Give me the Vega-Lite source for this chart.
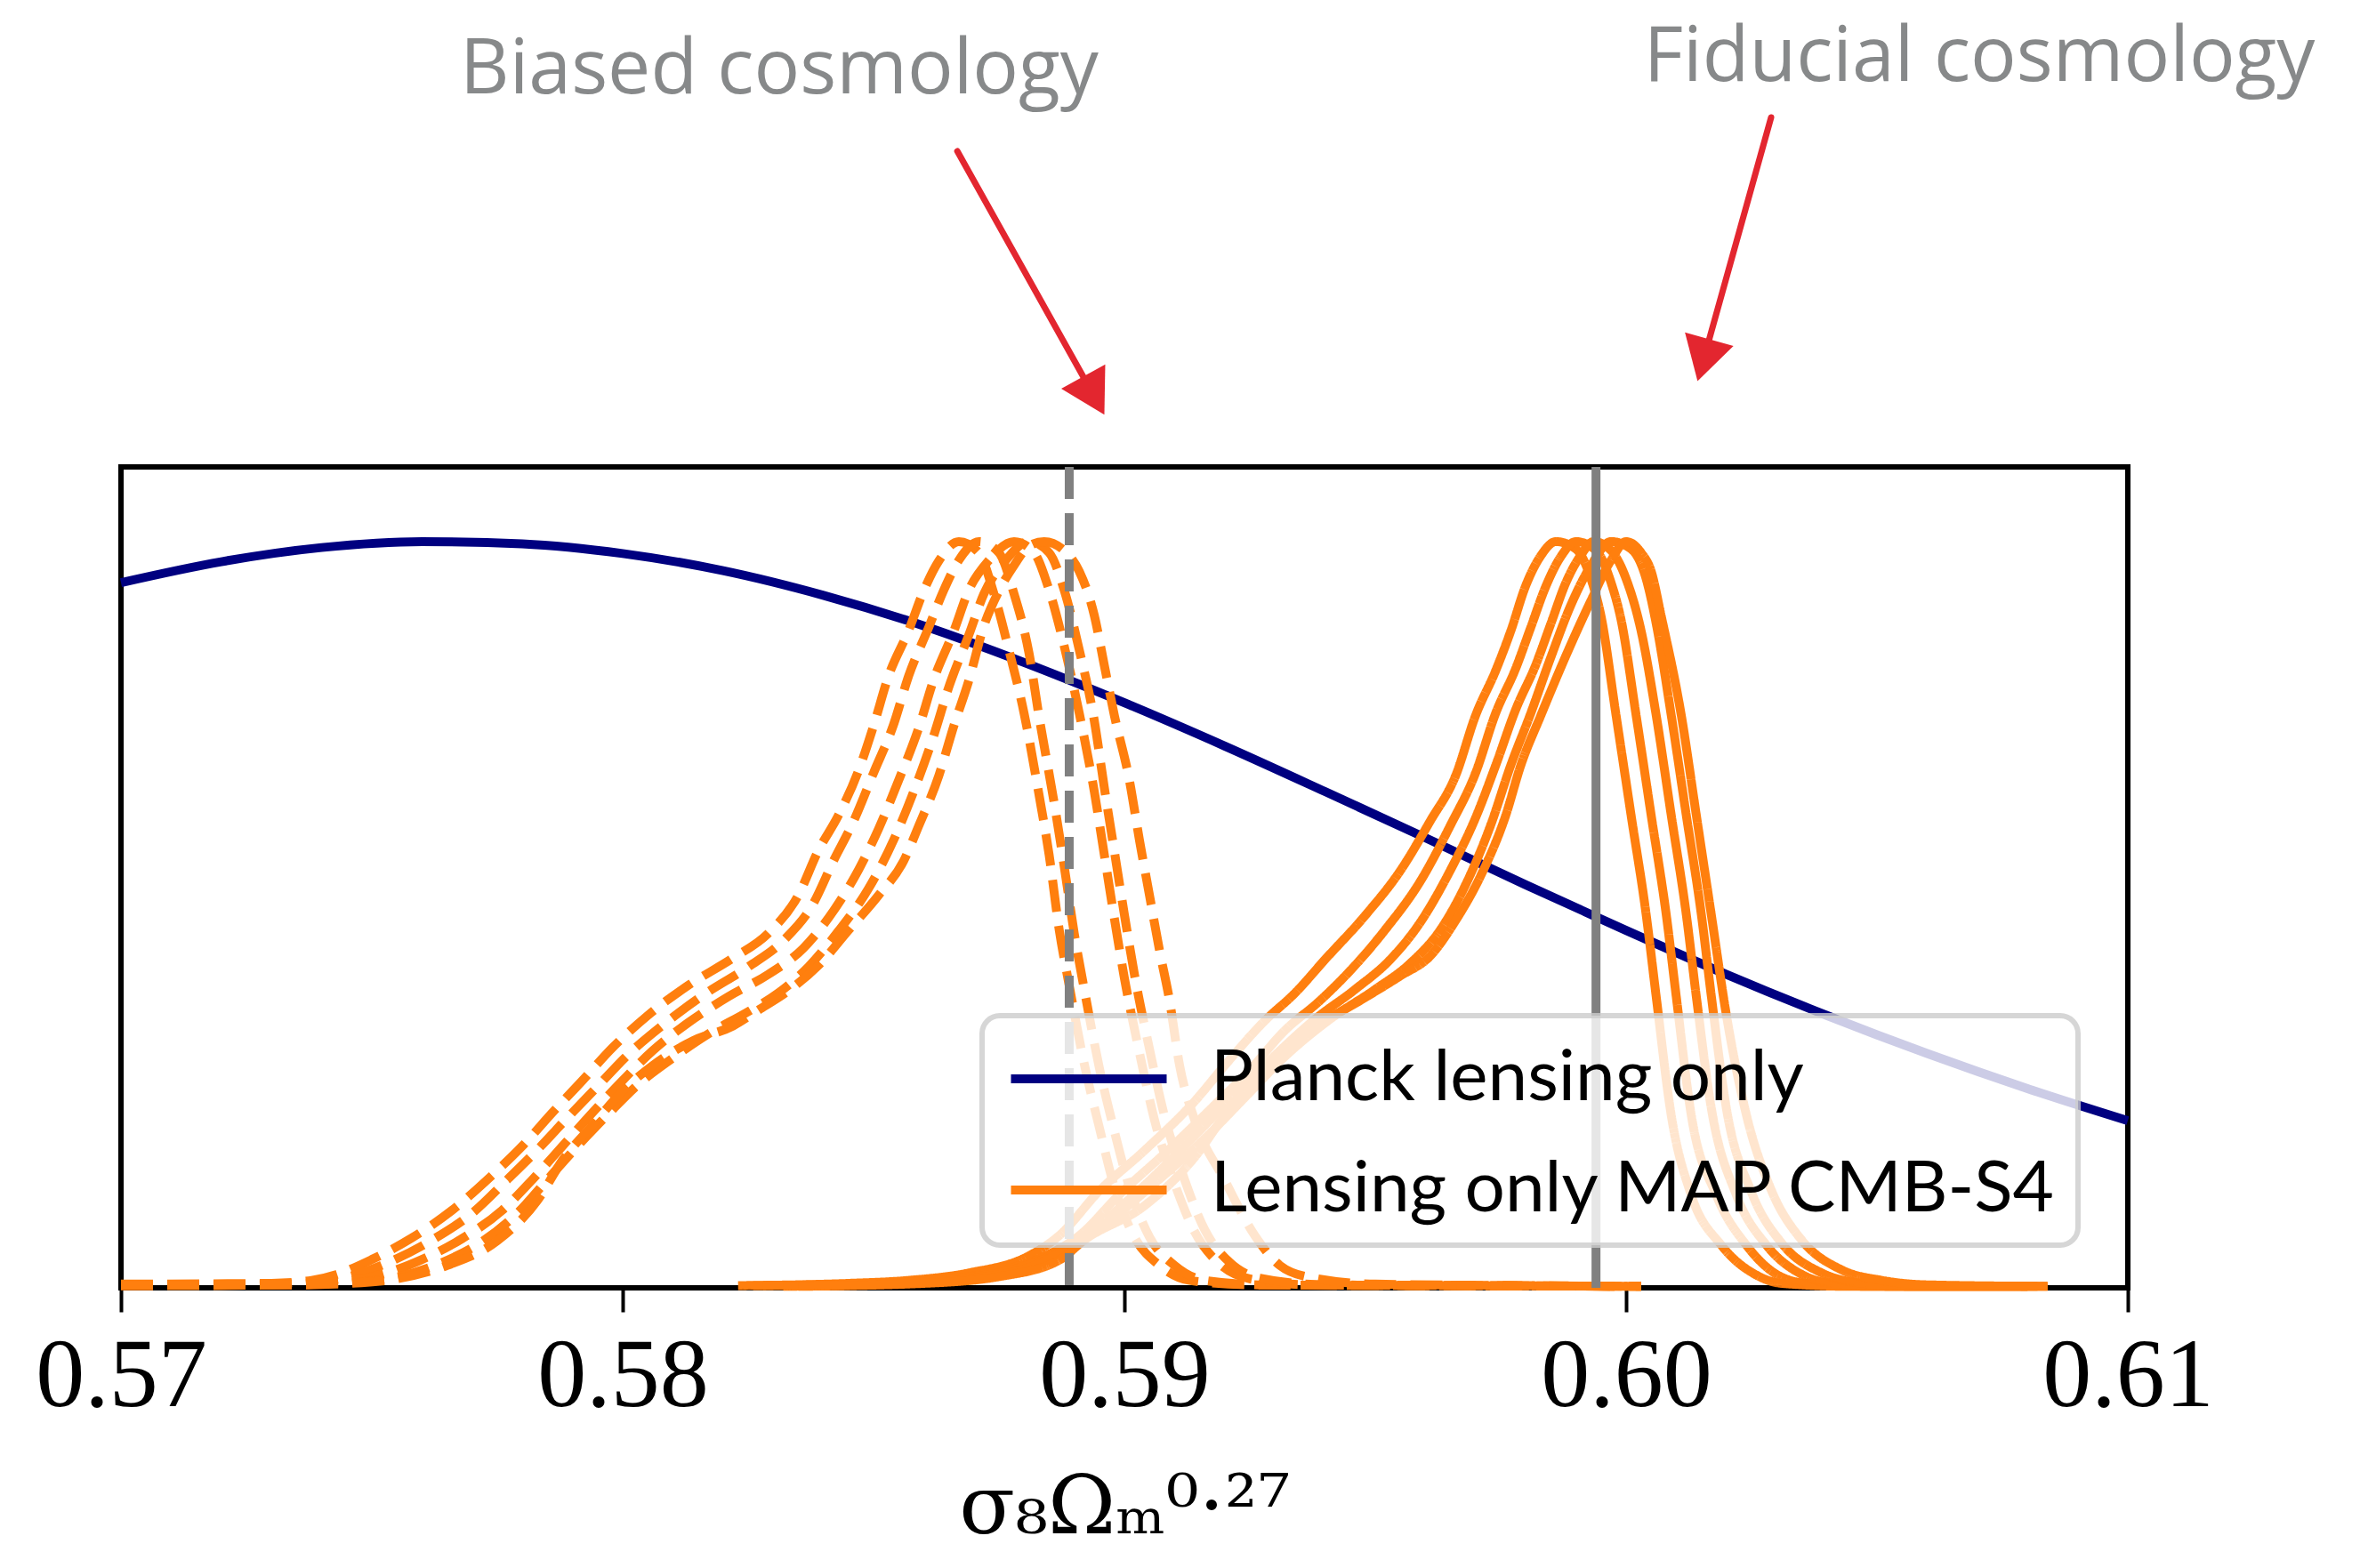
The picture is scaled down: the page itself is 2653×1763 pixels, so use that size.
{
  "$schema": "https://vega.github.io/schema/vega-lite/v6.json",
  "autosize": {"type": "none"},
  "padding": {"left": 136, "top": 525, "right": 261, "bottom": 315},
  "width": 2256,
  "height": 923,
  "background": "white",
  "datasets": {
    "planck": [
      {"x": 0.570, "p": 0.945}, {"x": 0.572, "p": 0.973}, {"x": 0.574, "p": 0.992}, {"x": 0.576, "p": 1.000},
      {"x": 0.578, "p": 0.997}, {"x": 0.580, "p": 0.984}, {"x": 0.582, "p": 0.961}, {"x": 0.584, "p": 0.928},
      {"x": 0.586, "p": 0.887}, {"x": 0.588, "p": 0.838}, {"x": 0.590, "p": 0.784}, {"x": 0.592, "p": 0.726},
      {"x": 0.594, "p": 0.665}, {"x": 0.596, "p": 0.603}, {"x": 0.598, "p": 0.540}, {"x": 0.600, "p": 0.479},
      {"x": 0.602, "p": 0.420}, {"x": 0.604, "p": 0.365}, {"x": 0.606, "p": 0.314}, {"x": 0.608, "p": 0.267},
      {"x": 0.610, "p": 0.224}
    ],
    "chains": [
      {"r": "b1", "c": "biased", "x": 0.5700, "p": 0.005}, {"r": "b1", "c": "biased", "x": 0.5730, "p": 0.006},
      {"r": "b1", "c": "biased", "x": 0.5738, "p": 0.010}, {"r": "b1", "c": "biased", "x": 0.5743, "p": 0.018},
      {"r": "b1", "c": "biased", "x": 0.5750, "p": 0.038}, {"r": "b1", "c": "biased", "x": 0.5758, "p": 0.067},
      {"r": "b1", "c": "biased", "x": 0.5766, "p": 0.104}, {"r": "b1", "c": "biased", "x": 0.5774, "p": 0.151},
      {"r": "b1", "c": "biased", "x": 0.5780, "p": 0.190}, {"r": "b1", "c": "biased", "x": 0.5786, "p": 0.235},
      {"r": "b1", "c": "biased", "x": 0.5792, "p": 0.278}, {"r": "b1", "c": "biased", "x": 0.5798, "p": 0.322},
      {"r": "b1", "c": "biased", "x": 0.5805, "p": 0.365}, {"r": "b1", "c": "biased", "x": 0.5813, "p": 0.405},
      {"r": "b1", "c": "biased", "x": 0.5822, "p": 0.442}, {"r": "b1", "c": "biased", "x": 0.5829, "p": 0.475},
      {"r": "b1", "c": "biased", "x": 0.5835, "p": 0.526}, {"r": "b1", "c": "biased", "x": 0.5839, "p": 0.586},
      {"r": "b1", "c": "biased", "x": 0.5843, "p": 0.633}, {"r": "b1", "c": "biased", "x": 0.5847, "p": 0.693},
      {"r": "b1", "c": "biased", "x": 0.5850, "p": 0.753}, {"r": "b1", "c": "biased", "x": 0.5853, "p": 0.820},
      {"r": "b1", "c": "biased", "x": 0.5857, "p": 0.881}, {"r": "b1", "c": "biased", "x": 0.5860, "p": 0.934},
      {"r": "b1", "c": "biased", "x": 0.5863, "p": 0.974}, {"r": "b1", "c": "biased", "x": 0.5867, "p": 1.000},
      {"r": "b1", "c": "biased", "x": 0.5871, "p": 0.985}, {"r": "b1", "c": "biased", "x": 0.5874, "p": 0.930},
      {"r": "b1", "c": "biased", "x": 0.5877, "p": 0.854}, {"r": "b1", "c": "biased", "x": 0.5880, "p": 0.770},
      {"r": "b1", "c": "biased", "x": 0.5883, "p": 0.660}, {"r": "b1", "c": "biased", "x": 0.5885, "p": 0.580},
      {"r": "b1", "c": "biased", "x": 0.5887, "p": 0.480}, {"r": "b1", "c": "biased", "x": 0.5889, "p": 0.405},
      {"r": "b1", "c": "biased", "x": 0.5892, "p": 0.300}, {"r": "b1", "c": "biased", "x": 0.5895, "p": 0.215},
      {"r": "b1", "c": "biased", "x": 0.5898, "p": 0.135}, {"r": "b1", "c": "biased", "x": 0.5902, "p": 0.068},
      {"r": "b1", "c": "biased", "x": 0.5907, "p": 0.030}, {"r": "b1", "c": "biased", "x": 0.5913, "p": 0.010},
      {"r": "b1", "c": "biased", "x": 0.5925, "p": 0.004}, {"r": "b1", "c": "biased", "x": 0.5960, "p": 0.003},
      {"r": "b1", "c": "biased", "x": 0.6003, "p": 0.002},

      {"r": "b2", "c": "biased", "x": 0.5700, "p": 0.004}, {"r": "b2", "c": "biased", "x": 0.5732, "p": 0.005},
      {"r": "b2", "c": "biased", "x": 0.5741, "p": 0.009}, {"r": "b2", "c": "biased", "x": 0.5747, "p": 0.018},
      {"r": "b2", "c": "biased", "x": 0.5754, "p": 0.036}, {"r": "b2", "c": "biased", "x": 0.5762, "p": 0.064},
      {"r": "b2", "c": "biased", "x": 0.5770, "p": 0.100}, {"r": "b2", "c": "biased", "x": 0.5777, "p": 0.145},
      {"r": "b2", "c": "biased", "x": 0.5783, "p": 0.185}, {"r": "b2", "c": "biased", "x": 0.5789, "p": 0.228},
      {"r": "b2", "c": "biased", "x": 0.5795, "p": 0.270}, {"r": "b2", "c": "biased", "x": 0.5801, "p": 0.312},
      {"r": "b2", "c": "biased", "x": 0.5808, "p": 0.352}, {"r": "b2", "c": "biased", "x": 0.5816, "p": 0.392},
      {"r": "b2", "c": "biased", "x": 0.5825, "p": 0.430}, {"r": "b2", "c": "biased", "x": 0.5832, "p": 0.465},
      {"r": "b2", "c": "biased", "x": 0.5838, "p": 0.515}, {"r": "b2", "c": "biased", "x": 0.5842, "p": 0.572},
      {"r": "b2", "c": "biased", "x": 0.5846, "p": 0.625}, {"r": "b2", "c": "biased", "x": 0.5850, "p": 0.690},
      {"r": "b2", "c": "biased", "x": 0.5854, "p": 0.755}, {"r": "b2", "c": "biased", "x": 0.5857, "p": 0.820},
      {"r": "b2", "c": "biased", "x": 0.5861, "p": 0.885}, {"r": "b2", "c": "biased", "x": 0.5864, "p": 0.935},
      {"r": "b2", "c": "biased", "x": 0.5867, "p": 0.975}, {"r": "b2", "c": "biased", "x": 0.5871, "p": 1.000},
      {"r": "b2", "c": "biased", "x": 0.5875, "p": 0.985}, {"r": "b2", "c": "biased", "x": 0.5878, "p": 0.930},
      {"r": "b2", "c": "biased", "x": 0.5881, "p": 0.850}, {"r": "b2", "c": "biased", "x": 0.5883, "p": 0.765},
      {"r": "b2", "c": "biased", "x": 0.5886, "p": 0.650}, {"r": "b2", "c": "biased", "x": 0.5888, "p": 0.565},
      {"r": "b2", "c": "biased", "x": 0.5890, "p": 0.475}, {"r": "b2", "c": "biased", "x": 0.5892, "p": 0.400},
      {"r": "b2", "c": "biased", "x": 0.5895, "p": 0.295}, {"r": "b2", "c": "biased", "x": 0.5898, "p": 0.210},
      {"r": "b2", "c": "biased", "x": 0.5901, "p": 0.135}, {"r": "b2", "c": "biased", "x": 0.5905, "p": 0.068},
      {"r": "b2", "c": "biased", "x": 0.5910, "p": 0.030}, {"r": "b2", "c": "biased", "x": 0.5916, "p": 0.010},
      {"r": "b2", "c": "biased", "x": 0.5928, "p": 0.004}, {"r": "b2", "c": "biased", "x": 0.5965, "p": 0.003},
      {"r": "b2", "c": "biased", "x": 0.6003, "p": 0.002},

      {"r": "b3", "c": "biased", "x": 0.5700, "p": 0.004}, {"r": "b3", "c": "biased", "x": 0.5735, "p": 0.005},
      {"r": "b3", "c": "biased", "x": 0.5745, "p": 0.009}, {"r": "b3", "c": "biased", "x": 0.5752, "p": 0.018},
      {"r": "b3", "c": "biased", "x": 0.5760, "p": 0.038}, {"r": "b3", "c": "biased", "x": 0.5768, "p": 0.066},
      {"r": "b3", "c": "biased", "x": 0.5776, "p": 0.104}, {"r": "b3", "c": "biased", "x": 0.5782, "p": 0.145},
      {"r": "b3", "c": "biased", "x": 0.5788, "p": 0.190}, {"r": "b3", "c": "biased", "x": 0.5794, "p": 0.235},
      {"r": "b3", "c": "biased", "x": 0.5800, "p": 0.278}, {"r": "b3", "c": "biased", "x": 0.5806, "p": 0.318},
      {"r": "b3", "c": "biased", "x": 0.5813, "p": 0.355}, {"r": "b3", "c": "biased", "x": 0.5821, "p": 0.390},
      {"r": "b3", "c": "biased", "x": 0.5829, "p": 0.420}, {"r": "b3", "c": "biased", "x": 0.5836, "p": 0.455},
      {"r": "b3", "c": "biased", "x": 0.5842, "p": 0.505}, {"r": "b3", "c": "biased", "x": 0.5847, "p": 0.560},
      {"r": "b3", "c": "biased", "x": 0.5851, "p": 0.615}, {"r": "b3", "c": "biased", "x": 0.5855, "p": 0.680},
      {"r": "b3", "c": "biased", "x": 0.5859, "p": 0.750}, {"r": "b3", "c": "biased", "x": 0.5862, "p": 0.815},
      {"r": "b3", "c": "biased", "x": 0.5866, "p": 0.880}, {"r": "b3", "c": "biased", "x": 0.5869, "p": 0.935},
      {"r": "b3", "c": "biased", "x": 0.5873, "p": 0.975}, {"r": "b3", "c": "biased", "x": 0.5878, "p": 1.000},
      {"r": "b3", "c": "biased", "x": 0.5882, "p": 0.985}, {"r": "b3", "c": "biased", "x": 0.5885, "p": 0.935},
      {"r": "b3", "c": "biased", "x": 0.5888, "p": 0.860}, {"r": "b3", "c": "biased", "x": 0.5891, "p": 0.770},
      {"r": "b3", "c": "biased", "x": 0.5894, "p": 0.665}, {"r": "b3", "c": "biased", "x": 0.5896, "p": 0.580},
      {"r": "b3", "c": "biased", "x": 0.5898, "p": 0.495}, {"r": "b3", "c": "biased", "x": 0.5900, "p": 0.415},
      {"r": "b3", "c": "biased", "x": 0.5903, "p": 0.315}, {"r": "b3", "c": "biased", "x": 0.5906, "p": 0.225},
      {"r": "b3", "c": "biased", "x": 0.5910, "p": 0.140}, {"r": "b3", "c": "biased", "x": 0.5914, "p": 0.075},
      {"r": "b3", "c": "biased", "x": 0.5919, "p": 0.032}, {"r": "b3", "c": "biased", "x": 0.5925, "p": 0.012},
      {"r": "b3", "c": "biased", "x": 0.5937, "p": 0.004}, {"r": "b3", "c": "biased", "x": 0.5970, "p": 0.003},
      {"r": "b3", "c": "biased", "x": 0.6003, "p": 0.002},

      {"r": "b4", "c": "biased", "x": 0.5700, "p": 0.003}, {"r": "b4", "c": "biased", "x": 0.5737, "p": 0.004},
      {"r": "b4", "c": "biased", "x": 0.5748, "p": 0.008}, {"r": "b4", "c": "biased", "x": 0.5756, "p": 0.016},
      {"r": "b4", "c": "biased", "x": 0.5764, "p": 0.034}, {"r": "b4", "c": "biased", "x": 0.5772, "p": 0.062},
      {"r": "b4", "c": "biased", "x": 0.5779, "p": 0.100}, {"r": "b4", "c": "biased", "x": 0.5785, "p": 0.145},
      {"r": "b4", "c": "biased", "x": 0.5791, "p": 0.190}, {"r": "b4", "c": "biased", "x": 0.5797, "p": 0.232},
      {"r": "b4", "c": "biased", "x": 0.5803, "p": 0.272}, {"r": "b4", "c": "biased", "x": 0.5810, "p": 0.308},
      {"r": "b4", "c": "biased", "x": 0.5817, "p": 0.340}, {"r": "b4", "c": "biased", "x": 0.5825, "p": 0.370},
      {"r": "b4", "c": "biased", "x": 0.5831, "p": 0.395}, {"r": "b4", "c": "biased", "x": 0.5837, "p": 0.430},
      {"r": "b4", "c": "biased", "x": 0.5843, "p": 0.478}, {"r": "b4", "c": "biased", "x": 0.5849, "p": 0.535},
      {"r": "b4", "c": "biased", "x": 0.5854, "p": 0.600}, {"r": "b4", "c": "biased", "x": 0.5858, "p": 0.665},
      {"r": "b4", "c": "biased", "x": 0.5862, "p": 0.740}, {"r": "b4", "c": "biased", "x": 0.5865, "p": 0.805},
      {"r": "b4", "c": "biased", "x": 0.5869, "p": 0.875}, {"r": "b4", "c": "biased", "x": 0.5872, "p": 0.930},
      {"r": "b4", "c": "biased", "x": 0.5876, "p": 0.972}, {"r": "b4", "c": "biased", "x": 0.5881, "p": 1.000},
      {"r": "b4", "c": "biased", "x": 0.5885, "p": 0.985}, {"r": "b4", "c": "biased", "x": 0.5888, "p": 0.935},
      {"r": "b4", "c": "biased", "x": 0.5891, "p": 0.855}, {"r": "b4", "c": "biased", "x": 0.5894, "p": 0.760},
      {"r": "b4", "c": "biased", "x": 0.5896, "p": 0.670}, {"r": "b4", "c": "biased", "x": 0.5898, "p": 0.585},
      {"r": "b4", "c": "biased", "x": 0.5900, "p": 0.500}, {"r": "b4", "c": "biased", "x": 0.5902, "p": 0.420},
      {"r": "b4", "c": "biased", "x": 0.5905, "p": 0.320}, {"r": "b4", "c": "biased", "x": 0.5908, "p": 0.230},
      {"r": "b4", "c": "biased", "x": 0.5912, "p": 0.145}, {"r": "b4", "c": "biased", "x": 0.5916, "p": 0.078},
      {"r": "b4", "c": "biased", "x": 0.5921, "p": 0.034}, {"r": "b4", "c": "biased", "x": 0.5927, "p": 0.013},
      {"r": "b4", "c": "biased", "x": 0.5940, "p": 0.004}, {"r": "b4", "c": "biased", "x": 0.5975, "p": 0.003},
      {"r": "b4", "c": "biased", "x": 0.6003, "p": 0.002},

      {"r": "b5", "c": "biased", "x": 0.5700, "p": 0.003}, {"r": "b5", "c": "biased", "x": 0.5730, "p": 0.004},
      {"r": "b5", "c": "biased", "x": 0.5745, "p": 0.006}, {"r": "b5", "c": "biased", "x": 0.5755, "p": 0.012},
      {"r": "b5", "c": "biased", "x": 0.5765, "p": 0.030}, {"r": "b5", "c": "biased", "x": 0.5775, "p": 0.063},
      {"r": "b5", "c": "biased", "x": 0.5783, "p": 0.117}, {"r": "b5", "c": "biased", "x": 0.5788, "p": 0.171},
      {"r": "b5", "c": "biased", "x": 0.5794, "p": 0.218}, {"r": "b5", "c": "biased", "x": 0.5800, "p": 0.264},
      {"r": "b5", "c": "biased", "x": 0.5806, "p": 0.298}, {"r": "b5", "c": "biased", "x": 0.5814, "p": 0.331},
      {"r": "b5", "c": "biased", "x": 0.5822, "p": 0.351}, {"r": "b5", "c": "biased", "x": 0.5827, "p": 0.372},
      {"r": "b5", "c": "biased", "x": 0.5833, "p": 0.398}, {"r": "b5", "c": "biased", "x": 0.5839, "p": 0.432},
      {"r": "b5", "c": "biased", "x": 0.5845, "p": 0.479}, {"r": "b5", "c": "biased", "x": 0.5851, "p": 0.526},
      {"r": "b5", "c": "biased", "x": 0.5856, "p": 0.572}, {"r": "b5", "c": "biased", "x": 0.5859, "p": 0.619},
      {"r": "b5", "c": "biased", "x": 0.5863, "p": 0.686}, {"r": "b5", "c": "biased", "x": 0.5866, "p": 0.753},
      {"r": "b5", "c": "biased", "x": 0.5869, "p": 0.814}, {"r": "b5", "c": "biased", "x": 0.5872, "p": 0.887},
      {"r": "b5", "c": "biased", "x": 0.5875, "p": 0.934}, {"r": "b5", "c": "biased", "x": 0.5878, "p": 0.968},
      {"r": "b5", "c": "biased", "x": 0.5881, "p": 0.994}, {"r": "b5", "c": "biased", "x": 0.5884, "p": 1.000},
      {"r": "b5", "c": "biased", "x": 0.5888, "p": 0.988}, {"r": "b5", "c": "biased", "x": 0.5891, "p": 0.960},
      {"r": "b5", "c": "biased", "x": 0.5894, "p": 0.901}, {"r": "b5", "c": "biased", "x": 0.5896, "p": 0.834},
      {"r": "b5", "c": "biased", "x": 0.5898, "p": 0.767}, {"r": "b5", "c": "biased", "x": 0.5901, "p": 0.680},
      {"r": "b5", "c": "biased", "x": 0.5903, "p": 0.600}, {"r": "b5", "c": "biased", "x": 0.5905, "p": 0.526},
      {"r": "b5", "c": "biased", "x": 0.5907, "p": 0.452}, {"r": "b5", "c": "biased", "x": 0.5909, "p": 0.385},
      {"r": "b5", "c": "biased", "x": 0.5911, "p": 0.298}, {"r": "b5", "c": "biased", "x": 0.5914, "p": 0.225},
      {"r": "b5", "c": "biased", "x": 0.5920, "p": 0.144}, {"r": "b5", "c": "biased", "x": 0.5926, "p": 0.070},
      {"r": "b5", "c": "biased", "x": 0.5931, "p": 0.030}, {"r": "b5", "c": "biased", "x": 0.5937, "p": 0.014},
      {"r": "b5", "c": "biased", "x": 0.5950, "p": 0.005}, {"r": "b5", "c": "biased", "x": 0.5980, "p": 0.003},
      {"r": "b5", "c": "biased", "x": 0.6003, "p": 0.002},

      {"r": "f1", "c": "fiducial", "x": 0.5823, "p": 0.003}, {"r": "f1", "c": "fiducial", "x": 0.5845, "p": 0.006},
      {"r": "f1", "c": "fiducial", "x": 0.5857, "p": 0.010}, {"r": "f1", "c": "fiducial", "x": 0.5869, "p": 0.020},
      {"r": "f1", "c": "fiducial", "x": 0.5881, "p": 0.043}, {"r": "f1", "c": "fiducial", "x": 0.5887, "p": 0.070},
      {"r": "f1", "c": "fiducial", "x": 0.5895, "p": 0.130}, {"r": "f1", "c": "fiducial", "x": 0.5904, "p": 0.184},
      {"r": "f1", "c": "fiducial", "x": 0.5914, "p": 0.250}, {"r": "f1", "c": "fiducial", "x": 0.5920, "p": 0.298},
      {"r": "f1", "c": "fiducial", "x": 0.5928, "p": 0.358}, {"r": "f1", "c": "fiducial", "x": 0.5934, "p": 0.395},
      {"r": "f1", "c": "fiducial", "x": 0.5940, "p": 0.440}, {"r": "f1", "c": "fiducial", "x": 0.5948, "p": 0.499},
      {"r": "f1", "c": "fiducial", "x": 0.5955, "p": 0.559}, {"r": "f1", "c": "fiducial", "x": 0.5961, "p": 0.626},
      {"r": "f1", "c": "fiducial", "x": 0.5966, "p": 0.686}, {"r": "f1", "c": "fiducial", "x": 0.5970, "p": 0.767},
      {"r": "f1", "c": "fiducial", "x": 0.5974, "p": 0.827}, {"r": "f1", "c": "fiducial", "x": 0.5977, "p": 0.880},
      {"r": "f1", "c": "fiducial", "x": 0.5980, "p": 0.941}, {"r": "f1", "c": "fiducial", "x": 0.5983, "p": 0.981},
      {"r": "f1", "c": "fiducial", "x": 0.5986, "p": 1.000}, {"r": "f1", "c": "fiducial", "x": 0.5990, "p": 0.990},
      {"r": "f1", "c": "fiducial", "x": 0.5993, "p": 0.950}, {"r": "f1", "c": "fiducial", "x": 0.5995, "p": 0.900},
      {"r": "f1", "c": "fiducial", "x": 0.5998, "p": 0.767}, {"r": "f1", "c": "fiducial", "x": 0.6001, "p": 0.633},
      {"r": "f1", "c": "fiducial", "x": 0.6004, "p": 0.500}, {"r": "f1", "c": "fiducial", "x": 0.6006, "p": 0.390},
      {"r": "f1", "c": "fiducial", "x": 0.6009, "p": 0.231}, {"r": "f1", "c": "fiducial", "x": 0.6013, "p": 0.124},
      {"r": "f1", "c": "fiducial", "x": 0.6019, "p": 0.057}, {"r": "f1", "c": "fiducial", "x": 0.6026, "p": 0.017},
      {"r": "f1", "c": "fiducial", "x": 0.6031, "p": 0.006}, {"r": "f1", "c": "fiducial", "x": 0.6045, "p": 0.002},
      {"r": "f1", "c": "fiducial", "x": 0.6080, "p": 0.002},

      {"r": "f2", "c": "fiducial", "x": 0.5826, "p": 0.003}, {"r": "f2", "c": "fiducial", "x": 0.5850, "p": 0.006},
      {"r": "f2", "c": "fiducial", "x": 0.5862, "p": 0.010}, {"r": "f2", "c": "fiducial", "x": 0.5873, "p": 0.020},
      {"r": "f2", "c": "fiducial", "x": 0.5884, "p": 0.042}, {"r": "f2", "c": "fiducial", "x": 0.5891, "p": 0.070},
      {"r": "f2", "c": "fiducial", "x": 0.5899, "p": 0.125}, {"r": "f2", "c": "fiducial", "x": 0.5908, "p": 0.180},
      {"r": "f2", "c": "fiducial", "x": 0.5918, "p": 0.245}, {"r": "f2", "c": "fiducial", "x": 0.5925, "p": 0.292},
      {"r": "f2", "c": "fiducial", "x": 0.5932, "p": 0.345}, {"r": "f2", "c": "fiducial", "x": 0.5939, "p": 0.385},
      {"r": "f2", "c": "fiducial", "x": 0.5945, "p": 0.425}, {"r": "f2", "c": "fiducial", "x": 0.5952, "p": 0.480},
      {"r": "f2", "c": "fiducial", "x": 0.5959, "p": 0.545}, {"r": "f2", "c": "fiducial", "x": 0.5965, "p": 0.620},
      {"r": "f2", "c": "fiducial", "x": 0.5970, "p": 0.690}, {"r": "f2", "c": "fiducial", "x": 0.5974, "p": 0.770},
      {"r": "f2", "c": "fiducial", "x": 0.5978, "p": 0.830}, {"r": "f2", "c": "fiducial", "x": 0.5981, "p": 0.885},
      {"r": "f2", "c": "fiducial", "x": 0.5984, "p": 0.940}, {"r": "f2", "c": "fiducial", "x": 0.5987, "p": 0.980},
      {"r": "f2", "c": "fiducial", "x": 0.5990, "p": 1.000}, {"r": "f2", "c": "fiducial", "x": 0.5994, "p": 0.988},
      {"r": "f2", "c": "fiducial", "x": 0.5997, "p": 0.945}, {"r": "f2", "c": "fiducial", "x": 0.5999, "p": 0.895},
      {"r": "f2", "c": "fiducial", "x": 0.6002, "p": 0.767}, {"r": "f2", "c": "fiducial", "x": 0.6005, "p": 0.633},
      {"r": "f2", "c": "fiducial", "x": 0.6008, "p": 0.500}, {"r": "f2", "c": "fiducial", "x": 0.6010, "p": 0.390},
      {"r": "f2", "c": "fiducial", "x": 0.6013, "p": 0.231}, {"r": "f2", "c": "fiducial", "x": 0.6018, "p": 0.124},
      {"r": "f2", "c": "fiducial", "x": 0.6024, "p": 0.057}, {"r": "f2", "c": "fiducial", "x": 0.6030, "p": 0.018},
      {"r": "f2", "c": "fiducial", "x": 0.6036, "p": 0.006}, {"r": "f2", "c": "fiducial", "x": 0.6050, "p": 0.002},
      {"r": "f2", "c": "fiducial", "x": 0.6080, "p": 0.002},

      {"r": "f3", "c": "fiducial", "x": 0.5828, "p": 0.003}, {"r": "f3", "c": "fiducial", "x": 0.5852, "p": 0.006},
      {"r": "f3", "c": "fiducial", "x": 0.5866, "p": 0.012}, {"r": "f3", "c": "fiducial", "x": 0.5878, "p": 0.025},
      {"r": "f3", "c": "fiducial", "x": 0.5886, "p": 0.045}, {"r": "f3", "c": "fiducial", "x": 0.5893, "p": 0.075},
      {"r": "f3", "c": "fiducial", "x": 0.5902, "p": 0.125}, {"r": "f3", "c": "fiducial", "x": 0.5912, "p": 0.190},
      {"r": "f3", "c": "fiducial", "x": 0.5920, "p": 0.245}, {"r": "f3", "c": "fiducial", "x": 0.5929, "p": 0.305},
      {"r": "f3", "c": "fiducial", "x": 0.5938, "p": 0.360}, {"r": "f3", "c": "fiducial", "x": 0.5946, "p": 0.400},
      {"r": "f3", "c": "fiducial", "x": 0.5953, "p": 0.440}, {"r": "f3", "c": "fiducial", "x": 0.5959, "p": 0.490},
      {"r": "f3", "c": "fiducial", "x": 0.5965, "p": 0.560}, {"r": "f3", "c": "fiducial", "x": 0.5970, "p": 0.630},
      {"r": "f3", "c": "fiducial", "x": 0.5974, "p": 0.700}, {"r": "f3", "c": "fiducial", "x": 0.5978, "p": 0.775},
      {"r": "f3", "c": "fiducial", "x": 0.5982, "p": 0.835}, {"r": "f3", "c": "fiducial", "x": 0.5985, "p": 0.890},
      {"r": "f3", "c": "fiducial", "x": 0.5988, "p": 0.945}, {"r": "f3", "c": "fiducial", "x": 0.5991, "p": 0.982},
      {"r": "f3", "c": "fiducial", "x": 0.59935, "p": 1.000}, {"r": "f3", "c": "fiducial", "x": 0.5997, "p": 0.988},
      {"r": "f3", "c": "fiducial", "x": 0.6000, "p": 0.950}, {"r": "f3", "c": "fiducial", "x": 0.6003, "p": 0.880},
      {"r": "f3", "c": "fiducial", "x": 0.6006, "p": 0.767}, {"r": "f3", "c": "fiducial", "x": 0.6009, "p": 0.633},
      {"r": "f3", "c": "fiducial", "x": 0.6012, "p": 0.500}, {"r": "f3", "c": "fiducial", "x": 0.6014, "p": 0.390},
      {"r": "f3", "c": "fiducial", "x": 0.6017, "p": 0.240}, {"r": "f3", "c": "fiducial", "x": 0.6022, "p": 0.124},
      {"r": "f3", "c": "fiducial", "x": 0.6028, "p": 0.057}, {"r": "f3", "c": "fiducial", "x": 0.6035, "p": 0.018},
      {"r": "f3", "c": "fiducial", "x": 0.6041, "p": 0.006}, {"r": "f3", "c": "fiducial", "x": 0.6055, "p": 0.002},
      {"r": "f3", "c": "fiducial", "x": 0.6082, "p": 0.002},

      {"r": "f4", "c": "fiducial", "x": 0.5832, "p": 0.002}, {"r": "f4", "c": "fiducial", "x": 0.5856, "p": 0.006},
      {"r": "f4", "c": "fiducial", "x": 0.5870, "p": 0.013}, {"r": "f4", "c": "fiducial", "x": 0.5882, "p": 0.030},
      {"r": "f4", "c": "fiducial", "x": 0.5889, "p": 0.055}, {"r": "f4", "c": "fiducial", "x": 0.5897, "p": 0.090},
      {"r": "f4", "c": "fiducial", "x": 0.5906, "p": 0.140}, {"r": "f4", "c": "fiducial", "x": 0.5916, "p": 0.200},
      {"r": "f4", "c": "fiducial", "x": 0.5924, "p": 0.255}, {"r": "f4", "c": "fiducial", "x": 0.5932, "p": 0.310},
      {"r": "f4", "c": "fiducial", "x": 0.5941, "p": 0.360}, {"r": "f4", "c": "fiducial", "x": 0.5950, "p": 0.400},
      {"r": "f4", "c": "fiducial", "x": 0.5957, "p": 0.435}, {"r": "f4", "c": "fiducial", "x": 0.5963, "p": 0.480},
      {"r": "f4", "c": "fiducial", "x": 0.5968, "p": 0.540}, {"r": "f4", "c": "fiducial", "x": 0.5973, "p": 0.620},
      {"r": "f4", "c": "fiducial", "x": 0.5977, "p": 0.700}, {"r": "f4", "c": "fiducial", "x": 0.5981, "p": 0.770},
      {"r": "f4", "c": "fiducial", "x": 0.5985, "p": 0.845}, {"r": "f4", "c": "fiducial", "x": 0.5989, "p": 0.915},
      {"r": "f4", "c": "fiducial", "x": 0.5993, "p": 0.968}, {"r": "f4", "c": "fiducial", "x": 0.5997, "p": 1.000},
      {"r": "f4", "c": "fiducial", "x": 0.6001, "p": 0.990}, {"r": "f4", "c": "fiducial", "x": 0.6004, "p": 0.950},
      {"r": "f4", "c": "fiducial", "x": 0.6006, "p": 0.890}, {"r": "f4", "c": "fiducial", "x": 0.6009, "p": 0.767},
      {"r": "f4", "c": "fiducial", "x": 0.6012, "p": 0.633}, {"r": "f4", "c": "fiducial", "x": 0.6015, "p": 0.500},
      {"r": "f4", "c": "fiducial", "x": 0.6017, "p": 0.390}, {"r": "f4", "c": "fiducial", "x": 0.6020, "p": 0.240},
      {"r": "f4", "c": "fiducial", "x": 0.6025, "p": 0.128}, {"r": "f4", "c": "fiducial", "x": 0.6031, "p": 0.060},
      {"r": "f4", "c": "fiducial", "x": 0.6039, "p": 0.020}, {"r": "f4", "c": "fiducial", "x": 0.6046, "p": 0.007},
      {"r": "f4", "c": "fiducial", "x": 0.6058, "p": 0.002}, {"r": "f4", "c": "fiducial", "x": 0.6084, "p": 0.002},

      {"r": "f5", "c": "fiducial", "x": 0.5835, "p": 0.002}, {"r": "f5", "c": "fiducial", "x": 0.5860, "p": 0.006},
      {"r": "f5", "c": "fiducial", "x": 0.5875, "p": 0.015}, {"r": "f5", "c": "fiducial", "x": 0.5887, "p": 0.037},
      {"r": "f5", "c": "fiducial", "x": 0.5892, "p": 0.064}, {"r": "f5", "c": "fiducial", "x": 0.5904, "p": 0.110},
      {"r": "f5", "c": "fiducial", "x": 0.5914, "p": 0.175}, {"r": "f5", "c": "fiducial", "x": 0.5920, "p": 0.231},
      {"r": "f5", "c": "fiducial", "x": 0.5928, "p": 0.291}, {"r": "f5", "c": "fiducial", "x": 0.5937, "p": 0.345},
      {"r": "f5", "c": "fiducial", "x": 0.5947, "p": 0.385}, {"r": "f5", "c": "fiducial", "x": 0.5955, "p": 0.418},
      {"r": "f5", "c": "fiducial", "x": 0.5961, "p": 0.445}, {"r": "f5", "c": "fiducial", "x": 0.5966, "p": 0.492},
      {"r": "f5", "c": "fiducial", "x": 0.5971, "p": 0.552}, {"r": "f5", "c": "fiducial", "x": 0.5976, "p": 0.633},
      {"r": "f5", "c": "fiducial", "x": 0.5979, "p": 0.700}, {"r": "f5", "c": "fiducial", "x": 0.5983, "p": 0.767},
      {"r": "f5", "c": "fiducial", "x": 0.5988, "p": 0.847}, {"r": "f5", "c": "fiducial", "x": 0.5993, "p": 0.921},
      {"r": "f5", "c": "fiducial", "x": 0.5997, "p": 0.975}, {"r": "f5", "c": "fiducial", "x": 0.6000, "p": 1.000},
      {"r": "f5", "c": "fiducial", "x": 0.6003, "p": 0.985}, {"r": "f5", "c": "fiducial", "x": 0.6005, "p": 0.960},
      {"r": "f5", "c": "fiducial", "x": 0.6007, "p": 0.900}, {"r": "f5", "c": "fiducial", "x": 0.6011, "p": 0.767},
      {"r": "f5", "c": "fiducial", "x": 0.6014, "p": 0.633}, {"r": "f5", "c": "fiducial", "x": 0.6017, "p": 0.499},
      {"r": "f5", "c": "fiducial", "x": 0.6020, "p": 0.365}, {"r": "f5", "c": "fiducial", "x": 0.6024, "p": 0.231},
      {"r": "f5", "c": "fiducial", "x": 0.6029, "p": 0.130}, {"r": "f5", "c": "fiducial", "x": 0.6035, "p": 0.064},
      {"r": "f5", "c": "fiducial", "x": 0.6043, "p": 0.024}, {"r": "f5", "c": "fiducial", "x": 0.6051, "p": 0.010},
      {"r": "f5", "c": "fiducial", "x": 0.6060, "p": 0.004}, {"r": "f5", "c": "fiducial", "x": 0.6084, "p": 0.002}
    ],
    "references": [
      {"c": "biased", "x": 0.5889},
      {"c": "fiducial", "x": 0.5994}
    ],
    "notes": [
      {"label": "Biased cosmology", "x": 0.58312, "y": 1.6005},
      {"label": "Fiducial cosmology", "x": 0.60704, "y": 1.6170}
    ],
    "arrows": [
      {"a": "biased", "x": 0.58667, "y": 1.5231, "x2": 0.58939, "y2": 1.1956},
      {"a": "fiducial", "x": 0.60289, "y": 1.5684, "x2": 0.60154, "y2": 1.2430}
    ]
  },
  "layer": [
    {
      "data": {"name": "planck"},
      "mark": {"type": "line", "interpolate": "monotone", "strokeWidth": 10},
      "encoding": {
        "x": {
          "field": "x", "type": "quantitative",
          "scale": {"domain": [0.57, 0.61], "nice": false, "zero": false},
          "axis": {
            "values": [0.57, 0.58, 0.59, 0.6, 0.61],
            "format": ".2f",
            "domain": false,
            "grid": false,
            "ticks": true,
            "tickColor": "black",
            "tickWidth": 4,
            "tickSize": 27,
            "labelFont": "Liberation Serif",
            "labelFontSize": 110,
            "labelColor": "black",
            "labelPadding": 18,
            "labelFlush": false,
            "labelOverlap": false,
            "labelLimit": 600,
            "title": "σ₈Ωₘ⁰·²⁷",
            "titleFont": "DejaVu Serif",
            "titleFontSize": 92,
            "titleFontWeight": "normal",
            "titleColor": "black",
            "titlePadding": 48,
            "titleLimit": 1200
          }
        },
        "y": {
          "field": "p", "type": "quantitative",
          "scale": {"domain": [0, 1.1], "nice": false, "zero": true},
          "axis": null
        },
        "color": {
          "datum": "Planck lensing only", "type": "nominal",
          "scale": {
            "domain": ["Planck lensing only", "Lensing only MAP CMB-S4"],
            "range": ["#000080", "#ff7f0e"]
          },
          "legend": {
            "title": null,
            "orient": "none",
            "legendX": 968,
            "legendY": 617,
            "symbolType": "M-2,0H2",
            "symbolSize": 7656,
            "symbolStrokeWidth": 10,
            "symbolOffset": 49,
            "labelFont": "Lato",
            "labelFontSize": 80,
            "labelColor": "black",
            "labelOffset": 88,
            "labelLimit": 2000,
            "rowPadding": 36,
            "padding": 22,
            "fillColor": "rgba(255,255,255,0.8)",
            "strokeColor": "rgba(204,204,204,0.8)",
            "cornerRadius": 20,
            "encode": {"legend": {"update": {"strokeWidth": {"value": 6}}}}
          }
        }
      }
    },
    {
      "data": {"name": "chains"},
      "mark": {"type": "line", "interpolate": "monotone", "strokeWidth": 10},
      "encoding": {
        "x": {"field": "x", "type": "quantitative"},
        "y": {"field": "p", "type": "quantitative"},
        "detail": {"field": "r", "type": "nominal"},
        "color": {"datum": "Lensing only MAP CMB-S4", "type": "nominal"},
        "strokeDash": {
          "field": "c", "type": "nominal",
          "scale": {"domain": ["fiducial", "biased"], "range": [[1, 0], [36, 16]]},
          "legend": null
        }
      }
    },
    {
      "data": {"name": "references"},
      "mark": {"type": "rule", "color": "#808080", "strokeWidth": 10},
      "encoding": {
        "x": {"field": "x", "type": "quantitative"},
        "strokeDash": {"field": "c", "type": "nominal", "legend": null}
      }
    },
    {
      "data": {"name": "notes"},
      "mark": {"type": "text", "font": "Open Sans", "fontSize": 86, "color": "#87898a", "align": "center", "baseline": "alphabetic"},
      "encoding": {
        "x": {"field": "x", "type": "quantitative"},
        "y": {"field": "y", "type": "quantitative"},
        "text": {"field": "label"}
      }
    },
    {
      "data": {"name": "arrows"},
      "mark": {"type": "rule", "color": "#e3262f", "strokeWidth": 7, "strokeCap": "round"},
      "encoding": {
        "x": {"field": "x", "type": "quantitative"},
        "y": {"field": "y", "type": "quantitative"},
        "x2": {"field": "x2"},
        "y2": {"field": "y2"}
      }
    },
    {
      "data": {"name": "arrows"},
      "transform": [{"filter": "datum.a === 'biased'"}],
      "mark": {"type": "point", "shape": "triangle-down", "filled": true, "size": 3200, "angle": -29, "color": "#e3262f", "opacity": 1},
      "encoding": {
        "x": {"field": "x2", "type": "quantitative"},
        "y": {"field": "y2", "type": "quantitative"}
      }
    },
    {
      "data": {"name": "arrows"},
      "transform": [{"filter": "datum.a === 'fiducial'"}],
      "mark": {"type": "point", "shape": "triangle-down", "filled": true, "size": 3200, "angle": 15.5, "color": "#e3262f", "opacity": 1},
      "encoding": {
        "x": {"field": "x2", "type": "quantitative"},
        "y": {"field": "y2", "type": "quantitative"}
      }
    }
  ],
  "config": {
    "view": {"stroke": "black", "strokeWidth": 6},
    "axis": {"grid": false}
  }
}
